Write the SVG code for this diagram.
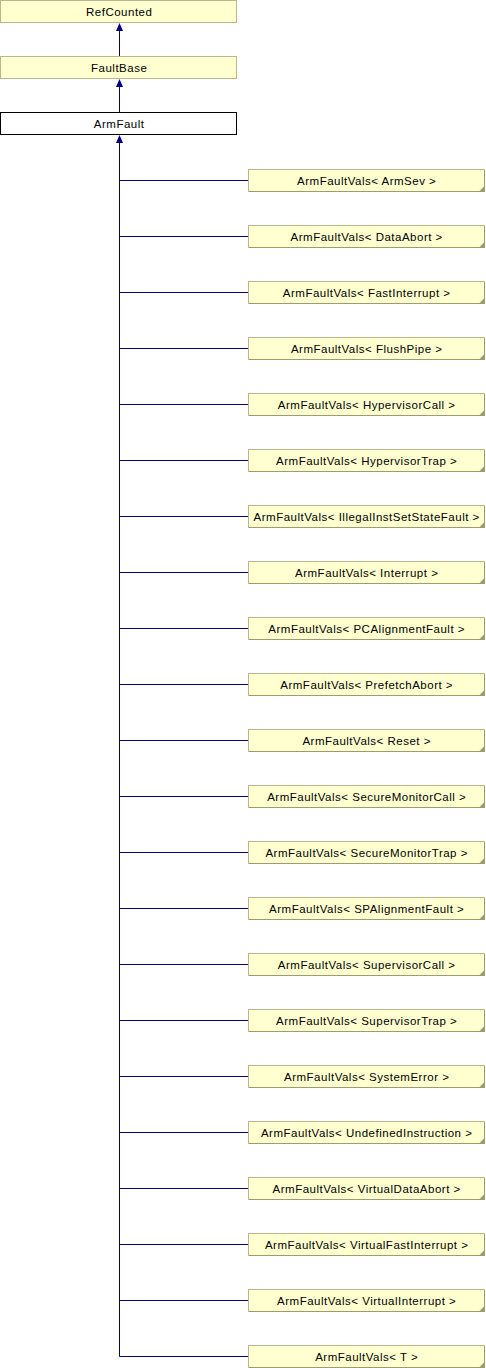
<svg xmlns="http://www.w3.org/2000/svg" width="486" height="1368" viewBox="0 0 486 1368">
<style>
.n{fill:#ffffd0;stroke:#b8b890;stroke-width:1}
.w{fill:#ffffff;stroke:#000000;stroke-width:1}
.sh{fill:none;stroke:#9c9c70;stroke-width:1}
.t{font-family:"Liberation Sans",Arial,sans-serif;font-size:11.5px;letter-spacing:0.5px;fill:#000;text-anchor:middle}
.e{stroke:#000080;stroke-width:1;fill:none}
</style>
<defs>
<g id="cb">
<rect class="n" x="0.5" y="0.5" width="236" height="22"/>
<path class="sh" d="M1,22.5 H236.5 V1"/>
<path d="M236.5,17 L236.5,22.5 L231,22.5 Z" fill="#9c9c70"/>
</g>
</defs>
<g id="connectors">
<path class="e" d="M119.5,56 V24"/>
<path d="M119.5,23 L116,31 L123,31 Z" fill="#000080"/>
<path class="e" d="M119.5,112 V80"/>
<path d="M119.5,79 L116,87 L123,87 Z" fill="#000080"/>
<path class="e" d="M119.5,1356.5 V137"/>
<path d="M119.5,135 L116,143 L123,143 Z" fill="#000080"/>
<path class="e" d="M120,180.5 H248 M120,236.5 H248 M120,292.5 H248 M120,348.5 H248 M120,404.5 H248 M120,460.5 H248 M120,516.5 H248 M120,572.5 H248 M120,628.5 H248 M120,684.5 H248 M120,740.5 H248 M120,796.5 H248 M120,852.5 H248 M120,908.5 H248 M120,964.5 H248 M120,1020.5 H248 M120,1076.5 H248 M120,1132.5 H248 M120,1188.5 H248 M120,1244.5 H248 M120,1300.5 H248 M119.5,1356.5 H248"/>
</g>
<g id="RefCounted"><rect class="n" x="0.5" y="0.5" width="236" height="22"/><text class="t" x="119.2" y="15.5">RefCounted</text></g>
<g id="FaultBase"><rect class="n" x="0.5" y="56.5" width="236" height="22"/><text class="t" x="119.2" y="71.5">FaultBase</text></g>
<g id="ArmFault"><rect class="w" x="0.5" y="112.5" width="236" height="22"/><text class="t" x="119.2" y="127.5">ArmFault</text></g>
<g id="c0" transform="translate(248,169)"><use href="#cb"/><text class="t" x="118.7" y="15.5">ArmFaultVals&lt; ArmSev &gt;</text></g>
<g id="c1" transform="translate(248,225)"><use href="#cb"/><text class="t" x="118.7" y="15.5">ArmFaultVals&lt; DataAbort &gt;</text></g>
<g id="c2" transform="translate(248,281)"><use href="#cb"/><text class="t" x="118.7" y="15.5">ArmFaultVals&lt; FastInterrupt &gt;</text></g>
<g id="c3" transform="translate(248,337)"><use href="#cb"/><text class="t" x="118.7" y="15.5">ArmFaultVals&lt; FlushPipe &gt;</text></g>
<g id="c4" transform="translate(248,393)"><use href="#cb"/><text class="t" x="118.7" y="15.5">ArmFaultVals&lt; HypervisorCall &gt;</text></g>
<g id="c5" transform="translate(248,449)"><use href="#cb"/><text class="t" x="118.7" y="15.5">ArmFaultVals&lt; HypervisorTrap &gt;</text></g>
<g id="c6" transform="translate(248,505)"><use href="#cb"/><text class="t" x="118.7" y="15.5">ArmFaultVals&lt; IllegalInstSetStateFault &gt;</text></g>
<g id="c7" transform="translate(248,561)"><use href="#cb"/><text class="t" x="118.7" y="15.5">ArmFaultVals&lt; Interrupt &gt;</text></g>
<g id="c8" transform="translate(248,617)"><use href="#cb"/><text class="t" x="118.7" y="15.5">ArmFaultVals&lt; PCAlignmentFault &gt;</text></g>
<g id="c9" transform="translate(248,673)"><use href="#cb"/><text class="t" x="118.7" y="15.5">ArmFaultVals&lt; PrefetchAbort &gt;</text></g>
<g id="c10" transform="translate(248,729)"><use href="#cb"/><text class="t" x="118.7" y="15.5">ArmFaultVals&lt; Reset &gt;</text></g>
<g id="c11" transform="translate(248,785)"><use href="#cb"/><text class="t" x="118.7" y="15.5">ArmFaultVals&lt; SecureMonitorCall &gt;</text></g>
<g id="c12" transform="translate(248,841)"><use href="#cb"/><text class="t" x="118.7" y="15.5">ArmFaultVals&lt; SecureMonitorTrap &gt;</text></g>
<g id="c13" transform="translate(248,897)"><use href="#cb"/><text class="t" x="118.7" y="15.5">ArmFaultVals&lt; SPAlignmentFault &gt;</text></g>
<g id="c14" transform="translate(248,953)"><use href="#cb"/><text class="t" x="118.7" y="15.5">ArmFaultVals&lt; SupervisorCall &gt;</text></g>
<g id="c15" transform="translate(248,1009)"><use href="#cb"/><text class="t" x="118.7" y="15.5">ArmFaultVals&lt; SupervisorTrap &gt;</text></g>
<g id="c16" transform="translate(248,1065)"><use href="#cb"/><text class="t" x="118.7" y="15.5">ArmFaultVals&lt; SystemError &gt;</text></g>
<g id="c17" transform="translate(248,1121)"><use href="#cb"/><text class="t" x="118.7" y="15.5">ArmFaultVals&lt; UndefinedInstruction &gt;</text></g>
<g id="c18" transform="translate(248,1177)"><use href="#cb"/><text class="t" x="118.7" y="15.5">ArmFaultVals&lt; VirtualDataAbort &gt;</text></g>
<g id="c19" transform="translate(248,1233)"><use href="#cb"/><text class="t" x="118.7" y="15.5">ArmFaultVals&lt; VirtualFastInterrupt &gt;</text></g>
<g id="c20" transform="translate(248,1289)"><use href="#cb"/><text class="t" x="118.7" y="15.5">ArmFaultVals&lt; VirtualInterrupt &gt;</text></g>
<g id="c21" transform="translate(248,1345)"><use href="#cb"/><text class="t" x="118.7" y="15.5">ArmFaultVals&lt; T &gt;</text></g>
</svg>
